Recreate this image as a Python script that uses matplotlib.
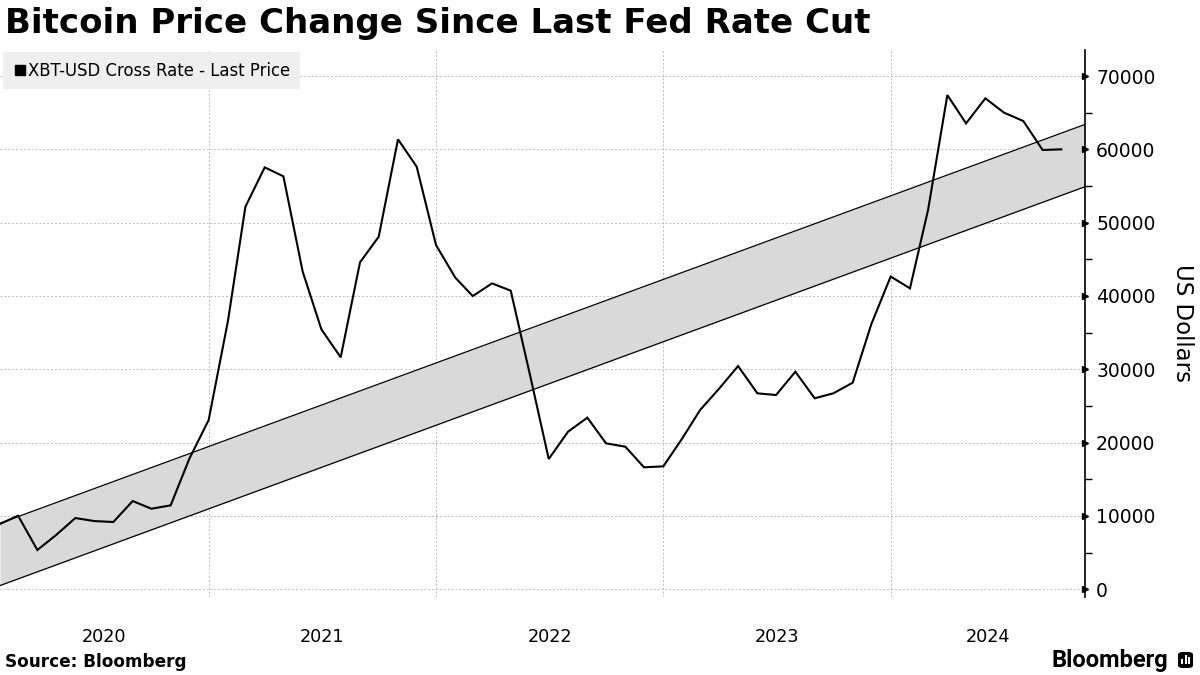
import matplotlib
matplotlib.use("Agg")
import matplotlib.pyplot as plt
from matplotlib.lines import Line2D
from matplotlib.patches import FancyBboxPatch, Rectangle
import pandas as pd

# ---------------- data ----------------
dates = pd.date_range("2020-02-01", "2024-10-01", freq="MS")
prices = [8900, 10030, 5350, 7390, 9710, 9300, 9170, 12030, 10980, 11440,
          17800, 23080, 36600, 52170, 57540, 56320, 43310, 35450, 31630, 44590,
          48080, 61370, 57630, 46950, 42500, 39990, 41720, 40720, 29200, 17760,
          21490, 23400, 19900, 19440, 16630, 16760, 20650, 24440, 27400, 30440,
          26720, 26490, 29670, 26040, 26720, 28170, 36170, 42650, 41040, 51720,
          67400, 63540, 66960, 65000, 63860, 59910, 60000]
band_dates = pd.to_datetime(["2020-02-01", "2024-11-08"])
band_lower = [500, 54900]
band_upper = [9000, 63400]
years = [2020, 2021, 2022, 2023, 2024]
yticks = [0, 10000, 20000, 30000, 40000, 50000, 60000, 70000]

title = "Bitcoin Price Change Since Last Fed Rate Cut"
series_name = "XBT-USD Cross Rate - Last Price"
y_label = "US Dollars"
source = "Source: Bloomberg"

# ---------------- figure ----------------
W, H = 1200, 675
fig = plt.figure(figsize=(W / 100, H / 100), dpi=100)
ax = fig.add_axes([0.0, 1 - 597 / H, 1085 / W, (597 - 50) / H])

xmin, xmax = band_dates[0], band_dates[1]

# band
ax.fill_between(band_dates, band_lower, band_upper, color="#d9d9d9", lw=0, zorder=1)
ax.plot(band_dates, band_lower, color="black", lw=0.9, zorder=2)
ax.plot(band_dates, band_upper, color="black", lw=0.9, zorder=2)

# price line
ax.plot(dates, prices, color="black", lw=1.5, zorder=3, solid_joinstyle="miter")

ax.set_xlim(xmin, xmax)
ax.set_ylim(-1060, 73550)

# spines
for s in ["left", "top", "bottom"]:
    ax.spines[s].set_visible(False)
ax.spines["right"].set_linewidth(1.2)

# y axis on right
ax.yaxis.tick_right()
ax.yaxis.set_label_position("right")
ax.set_yticks(yticks)
ax.set_yticklabels([str(v) for v in yticks], fontsize=13.5, fontfamily="DejaVu Sans")
ax.set_yticks([v + 5000 for v in yticks[:-1]], minor=True)
ax.tick_params(axis="y", which="major", length=0, pad=8)
ax.tick_params(axis="y", which="minor", length=5, width=1, direction="out", right=True)
# triangle markers for major ticks
ax.plot([1] * len(yticks), yticks, marker=">", color="black", markersize=5, ls="none",
        transform=ax.get_yaxis_transform(), clip_on=False, zorder=5)
ax.set_ylabel(y_label, rotation=270, fontsize=16.5, labelpad=28)

# x axis: gridlines at year starts, labels centered in visible part
year_starts = [pd.Timestamp(f"{y}-01-01") for y in years[1:]]
ax.set_xticks(year_starts)
ax.set_xticklabels([""] * len(year_starts))
centers = []
for y in years:
    a = max(pd.Timestamp(f"{y}-01-01"), xmin)
    b = min(pd.Timestamp(f"{y + 1}-01-01"), xmax)
    centers.append(a + (b - a) / 2)
ax.set_xticks(centers, minor=True)
ax.set_xticklabels([str(y) for y in years], minor=True, fontsize=12.7)
ax.tick_params(axis="x", which="both", length=0, pad=22)

ax.grid(True, axis="both", which="major", color="#bdbdbd", ls=(0, (2, 2)), lw=0.7)
ax.set_axisbelow(True)

# legend
handle = Line2D([], [], marker="s", color="black", ls="none", markersize=7.5)
leg = ax.legend([handle], [series_name], loc="upper left", bbox_to_anchor=(0.0025, 0.997),
                borderaxespad=0, frameon=True, fancybox=False, fontsize=11.9,
                handletextpad=0.05, handlelength=0.9, borderpad=0.6)
leg.get_frame().set_facecolor("#efefef")
leg.get_frame().set_edgecolor("none")
leg.get_frame().set_alpha(1)
leg.set_zorder(4)

# texts
fig.text(5 / W, 1 - 23 / H, title, fontsize=24.5, fontweight="bold", va="center", ha="left")
fig.text(5 / W, 1 - 662 / H, source, fontsize=12.2, fontweight="bold", va="center", ha="left")
fig.text(1168 / W, 1 - 660 / H, "Bloomberg", fontsize=17, fontweight="bold",
         fontfamily="Roboto", va="center", ha="right")
# logo icon
icon = FancyBboxPatch((1178 / W, 1 - 668 / H), 15 / W, 16 / H,
                      boxstyle="round,pad=0,rounding_size=0.004", transform=fig.transFigure,
                      facecolor="black", edgecolor="none")
fig.patches.append(icon)
for i, h in enumerate([5, 9, 7]):
    fig.patches.append(Rectangle(((1181 + i * 3.5) / W, 1 - 664 / H), 2 / W, h / H,
                                 transform=fig.transFigure, facecolor="white", edgecolor="none"))

fig.savefig("out.png", dpi=100)
